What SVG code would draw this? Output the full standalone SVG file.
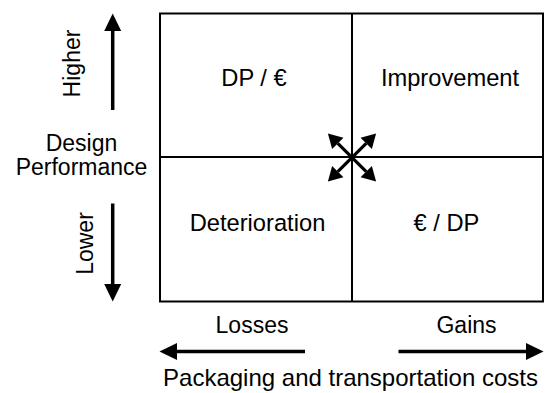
<svg xmlns="http://www.w3.org/2000/svg" width="547" height="393" viewBox="0 0 547 393">
<style>
text{font-family:"Liberation Sans",Arial,sans-serif;fill:#000;}
.q{font-size:23.7px;text-anchor:middle;}
.l{font-size:23px;text-anchor:middle;}
.b{font-size:24px;text-anchor:middle;}
.grid{stroke:#000;stroke-width:2;fill:none;}
.arr{stroke:#000;stroke-width:3.5;fill:none;}
.arrs{stroke:#000;stroke-width:3.2;fill:none;}
</style>
<defs>
<marker id="big" markerUnits="userSpaceOnUse" markerWidth="20" markerHeight="20" refX="0" refY="0" orient="auto-start-reverse" overflow="visible">
<path d="M0,-8.5 L17.5,0 L0,8.5 Z" fill="#000"/>
</marker>
<marker id="small" markerUnits="userSpaceOnUse" markerWidth="18" markerHeight="18" refX="0" refY="0" orient="auto-start-reverse" overflow="visible">
<path d="M0,-8 L14,0 L0,8 Z" fill="#000"/>
</marker>
</defs>
<rect width="547" height="393" fill="#fff"/>
<g id="grid">
<rect class="grid" x="160" y="13.5" width="383" height="288"/>
<line class="grid" x1="352" y1="13.5" x2="352" y2="301.5"/>
<line class="grid" x1="160" y1="157" x2="543" y2="157"/>
</g>
<g id="q-dp-euro"><text class="q" x="254" y="86">DP / €</text></g>
<g id="q-improvement"><text class="q" x="450" y="86">Improvement</text></g>
<g id="q-deterioration"><text class="q" x="257.5" y="231">Deterioration</text></g>
<g id="q-euro-dp"><text class="q" x="446.5" y="231">€ / DP</text></g>
<g id="axis-y">
<text class="l" x="81.5" y="151">Design</text>
<text class="l" x="81.5" y="175">Performance</text>
<text class="l" transform="translate(80,63.5) rotate(-90)">Higher</text>
<text class="l" transform="translate(93,243.5) rotate(-90)">Lower</text>
</g>
<g id="axis-x">
<text class="l" x="252" y="333">Losses</text>
<text class="l" x="466.5" y="333">Gains</text>
<text class="b" x="350.5" y="386">Packaging and transportation costs</text>
</g>
<g id="connectors">
<line class="arr" x1="112.7" y1="110" x2="112.7" y2="31" marker-end="url(#big)"/>
<line class="arr" x1="112.7" y1="203.5" x2="112.7" y2="284" marker-end="url(#big)"/>
<line class="arr" x1="305" y1="351.5" x2="177" y2="351.5" marker-end="url(#big)"/>
<line class="arr" x1="398.5" y1="351.5" x2="526" y2="351.5" marker-end="url(#big)"/>
<line class="arrs" x1="337.8" y1="143.3" x2="366.2" y2="171.7" marker-start="url(#small)" marker-end="url(#small)"/>
<line class="arrs" x1="366.2" y1="143.3" x2="337.8" y2="171.7" marker-start="url(#small)" marker-end="url(#small)"/>
</g>
</svg>
